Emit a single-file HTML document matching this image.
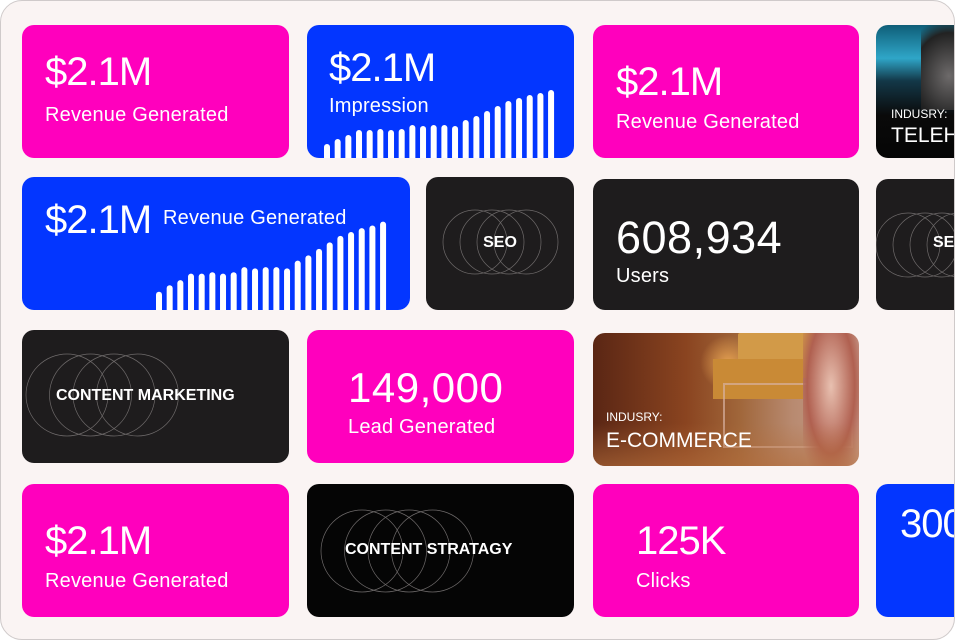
<!DOCTYPE html>
<html><head><meta charset="utf-8">
<style>
*{margin:0;padding:0;box-sizing:border-box}
html,body{width:956px;height:641px;overflow:hidden;background:#fff}
#wrap{position:absolute;left:0;top:0;width:955px;height:640px;border:1px solid #cfcaca;border-radius:22px;background:#faf4f3;overflow:hidden;font-family:"Liberation Sans",sans-serif;color:#fff}
.c{position:absolute;border-radius:12px;overflow:hidden}
.p{background:#ff00bd}.b{background:#0336ff}.d{background:#1e1c1d}.k{background:#050505}
.big{position:absolute;font-size:40px;letter-spacing:-1px;line-height:1}
.lab{position:absolute;font-size:20px;line-height:1;letter-spacing:0.2px}
.t{position:absolute;font-weight:bold;font-size:16px}
svg{position:absolute;left:0;top:0}
</style></head><body><div id="wrap">

<div class="c p" style="left:21px;top:24px;width:267px;height:133px"><div class="big" style="left:23px;top:27px">$2.1M</div><div class="lab" style="left:23px;top:80px">Revenue Generated</div></div>

<div class="c b" style="left:306px;top:24px;width:267px;height:133px"><svg id="s1" width="267" height="133"></svg><div class="big" style="left:22px;top:23px">$2.1M</div><div class="lab" style="left:22px;top:71px">Impression</div></div>

<div class="c p" style="left:592px;top:24px;width:266px;height:133px"><div class="big" style="left:23px;top:37px">$2.1M</div><div class="lab" style="left:23px;top:87px">Revenue Generated</div></div>

<div class="c" style="left:875px;top:24px;width:100px;height:133px;background:linear-gradient(180deg,#0f5e78 0%,#2fa6c8 25%,#133848 42%,#0a0a0a 68%,#050505 100%)"><div style="position:absolute;left:45px;top:0;width:70px;height:85px;background:radial-gradient(ellipse at 40% 60%,#6d6a6a,#222 60%,transparent 80%)"></div><div style="position:absolute;left:15px;top:82px;font-size:12px">INDUSRY:</div><div style="position:absolute;left:15px;top:99px;font-size:21px">TELEHEALTH</div></div>

<div class="c b" style="left:21px;top:176px;width:388px;height:133px"><svg id="s2" width="388" height="133"></svg><div class="big" style="left:23px;top:23px">$2.1M</div><div class="lab" style="left:141px;top:31px">Revenue Generated</div></div>

<div class="c d" style="left:425px;top:176px;width:148px;height:133px"><svg id="s3" width="148" height="133"></svg><div class="t" style="left:0;width:148px;text-align:center;top:57px">SEO</div></div>

<div class="c d" style="left:592px;top:178px;width:266px;height:131px"><div class="big" style="left:23px;top:36px;font-size:45px;letter-spacing:0.5px">608,934</div><div class="lab" style="left:23px;top:87px">Users</div></div>

<div class="c d" style="left:875px;top:178px;width:100px;height:131px"><svg id="s4" width="100" height="131"></svg><div class="t" style="left:57px;top:55px">SEO</div></div>

<div class="c d" style="left:21px;top:329px;width:267px;height:133px"><svg id="s5" width="267" height="133"></svg><div class="t" style="left:34px;top:57px">CONTENT MARKETING</div></div>

<div class="c p" style="left:306px;top:329px;width:267px;height:133px"><div class="big" style="left:41px;top:37px;font-size:42px;letter-spacing:0.5px">149,000</div><div class="lab" style="left:41px;top:87px">Lead Generated</div></div>

<div class="c" style="left:592px;top:332px;width:266px;height:133px;background:linear-gradient(90deg,#5a2614 0%,#8a4420 35%,#a0663a 55%,#b88a70 75%,#c9a090 100%)">
<div style="position:absolute;left:100px;top:0;width:70px;height:60px;background:radial-gradient(circle,#e4a050 0%,transparent 60%)"></div>
<div style="position:absolute;left:145px;top:0;width:90px;height:45px;background:#d29a48;border-radius:2px"></div>
<div style="position:absolute;left:120px;top:26px;width:90px;height:40px;background:#c98a36"></div>
<div style="position:absolute;left:130px;top:50px;width:130px;height:65px;border:2px solid #d7b1a0;opacity:.7"></div>
<div style="position:absolute;left:210px;top:0;width:56px;height:133px;background:radial-gradient(ellipse at 50% 40%,#e8c0b0,#b06050 60%,transparent 90%)"></div>
<div style="position:absolute;left:0;top:90px;width:266px;height:43px;background:linear-gradient(180deg,transparent,rgba(180,110,60,.6))"></div>
<div style="position:absolute;left:13px;top:77px;font-size:12px">INDUSRY:</div>
<div style="position:absolute;left:13px;top:96px;font-size:21px">E-COMMERCE</div></div>

<div class="c p" style="left:21px;top:483px;width:267px;height:133px"><div class="big" style="left:23px;top:37px">$2.1M</div><div class="lab" style="left:23px;top:87px">Revenue Generated</div></div>

<div class="c k" style="left:306px;top:483px;width:267px;height:133px"><svg id="s6" width="267" height="133"></svg><div class="t" style="left:38px;top:57px">CONTENT STRATAGY</div></div>

<div class="c p" style="left:592px;top:483px;width:266px;height:133px"><div class="big" style="left:43px;top:37px">125K</div><div class="lab" style="left:43px;top:87px">Clicks</div></div>

<div class="c b" style="left:875px;top:483px;width:100px;height:133px"><div class="big" style="left:24px;top:20px">300</div></div>

</div>
<script>
var NS="http://www.w3.org/2000/svg";
function bars(id,x0,bottom,tops){var s=document.getElementById(id);tops.forEach(function(t,i){var r=document.createElementNS(NS,"rect");r.setAttribute("x",x0+i*10.67);r.setAttribute("y",t);r.setAttribute("width",6);r.setAttribute("height",bottom-t+5);r.setAttribute("rx",3);r.setAttribute("fill","#fff");s.appendChild(r);});}
var imp=[143,138,134,129,129,128,129,128,124,125,124,124,125,119,115,110,105,100,97,94,92,89];
bars("s1",17,133,imp.map(function(y){return y-24;}));
bars("s2",134,133,imp.map(function(y){return 133-(157-y)*1.3;}));
function circ(id,cx,cy,r,n,sp){var s=document.getElementById(id);for(var i=0;i<n;i++){var c=document.createElementNS(NS,"circle");c.setAttribute("cx",cx+i*sp);c.setAttribute("cy",cy);c.setAttribute("r",r);c.setAttribute("fill","none");c.setAttribute("stroke","#6e6a6a");c.setAttribute("stroke-width","0.7");s.appendChild(c);}}
circ("s3",49,65,32,4,17);
circ("s4",32,66,32,4,17);
circ("s5",45,65,41,4,23.5);
circ("s6",55,67,41,4,23.5);
</script>
</body></html>
